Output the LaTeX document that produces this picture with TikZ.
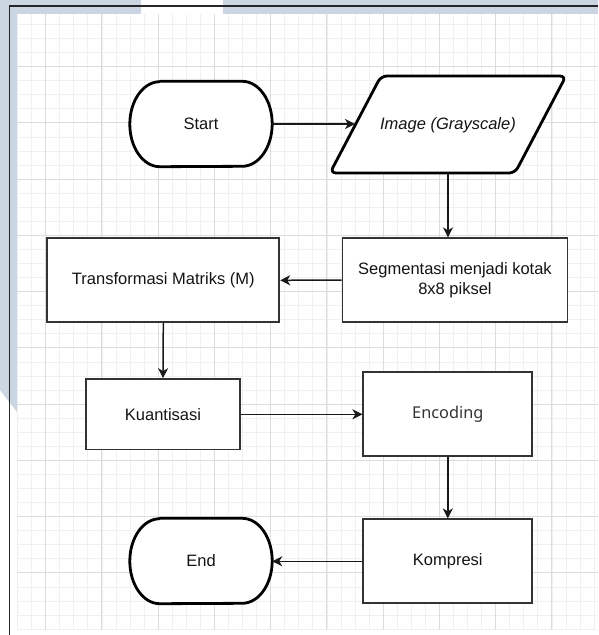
\documentclass[tikz,border=0pt]{standalone}
\usepackage{fontspec}
\setmainfont{Liberation Sans}
\newfontfamily\encfont{Noto Sans}
\usetikzlibrary{arrows.meta,calc}

\definecolor{framebg}{RGB}{203,214,226}
\definecolor{gridminor}{RGB}{240,240,240}
\definecolor{gridmajor}{RGB}{220,220,220}
\definecolor{boxline}{RGB}{51,51,51}
\definecolor{enctext}{RGB}{52,52,52}
\definecolor{inktext}{RGB}{20,20,20}

\begin{document}
\begin{tikzpicture}[x=1pt,y=-1pt,
  txt/.style={font=\fontsize{16.5}{20}\selectfont, text=inktext, align=center, inner sep=0pt},
  procbox/.style={txt, draw=boxline, line width=1.8pt, fill=white, minimum height=84pt},
  termnode/.style={txt, minimum width=142pt, minimum height=85pt},
  termline/.style={draw=black, line width=2.8pt, fill=white, line join=round},
  flow/.style={draw=black!90, line width=1.5pt, -{Stealth[length=10pt,width=10pt,inset=3pt]}},
  minorgrid/.style={draw=gridminor, line width=0.9pt},
  majorgrid/.style={draw=gridmajor, line width=1pt},
  frameline/.style={draw=black!85, line width=1.4pt}]

\useasboundingbox (0,0) rectangle (598,635);

% page backdrop and frame bands
\fill[white] (0,0) rectangle (598,635);
\fill[framebg] (0,0) rectangle (141,14);
\fill[framebg] (223,0) rectangle (598,14);
\fill[framebg] (0,14) -- (17,14) -- (17,412) -- (0,390) -- cycle;
\fill[framebg] (0,0) rectangle (9.5,14);

% drawing canvas with grid
\fill[white] (17,14) rectangle (598,630);
\foreach \i in {0,...,41} \draw[minorgrid] ({17.6+14.0625*\i},14) -- ({17.6+14.0625*\i},630);
\foreach \i in {0,...,43} \draw[minorgrid] (17,{24.5+14.0625*\i}) -- (598,{24.5+14.0625*\i});
\foreach \i in {0,...,9} \draw[majorgrid] ({45.7+56.25*\i},14) -- ({45.7+56.25*\i},630);
\foreach \i in {0,...,9} \draw[majorgrid] (17,{66.7+56.25*\i}) -- (598,{66.7+56.25*\i});

% frame border
\draw[frameline] (9.5,635) -- (9.5,6) -- (598,6);

% terminators
\node[termnode] (start) at (201,124) {};
\draw[termline] ([xshift=30pt]start.north west) -- ([xshift=-30pt]start.north east)
  arc[start angle=90, end angle=-90, x radius=30pt, y radius=42.5pt]
  -- ([xshift=30pt]start.south west)
  arc[start angle=270, end angle=90, x radius=30pt, y radius=42.5pt] -- cycle;
\node[termnode] at (start.center) {Start};

\node[termnode] (end) at (201,561) {};
\draw[termline] ([xshift=30pt]end.north west) -- ([xshift=-30pt]end.north east)
  arc[start angle=90, end angle=-90, x radius=30pt, y radius=42.5pt]
  -- ([xshift=30pt]end.south west)
  arc[start angle=270, end angle=90, x radius=30pt, y radius=42.5pt] -- cycle;
\node[termnode] at (end.center) {End};

% input parallelogram
\draw[termline, rounded corners=6pt] (381,76) -- (566,76) -- (515,173) -- (330,173) -- cycle;
\node[txt, font=\fontsize{16.5}{20}\selectfont\itshape] (img) at (448,125) {Image (Grayscale)};
\coordinate (imgin) at (355,125);
\coordinate (imgout) at (448,173);

% process boxes
\node[procbox, minimum width=225pt, minimum height=83.5pt] (seg) at (455,280) {Segmentasi menjadi kotak\\8x8 piksel};
\node[procbox, minimum width=232pt] (trans) at (163.3,280.3) {Transformasi Matriks (M)};
\node[procbox, minimum width=154pt, minimum height=70.5pt] (kuan) at (163,414.3) {Kuantisasi};
\node[procbox, minimum width=169pt, font=\encfont\fontsize{16.3}{20}\selectfont, text=enctext] (enc) at (447.8,413.8) {Encoding};
\node[procbox, minimum width=169pt] (komp) at (447.8,561.3) {Kompresi};

% connectors
\draw[flow] (start.east) -- (start.east -| imgin);
\draw[flow] (imgout) -- (imgout |- seg.north);
\draw[flow] (seg.west) -- (trans.east);
\draw[flow] (trans.south) -- (kuan.north);
\draw[flow] (kuan.east) -- (kuan.east -| enc.west);
\draw[flow] (enc.south) -- (komp.north);
\draw[flow] (komp.west) -- (komp.west -| end.east);
\end{tikzpicture}
\end{document}
